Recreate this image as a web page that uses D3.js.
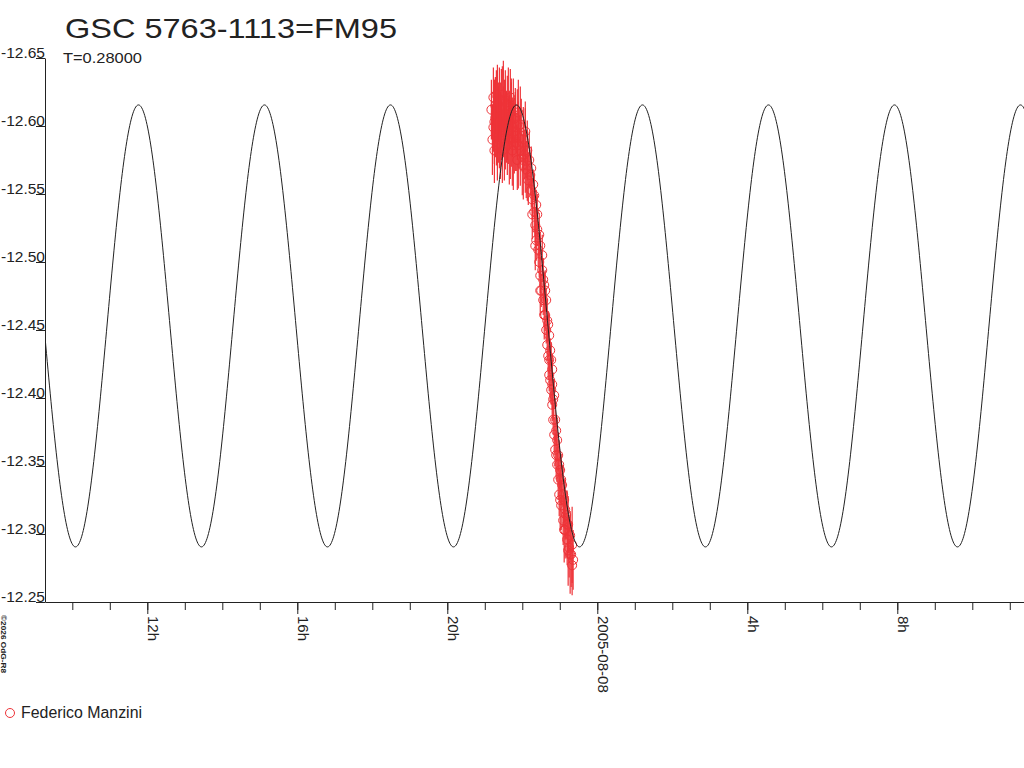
<!DOCTYPE html>
<html>
<head>
<meta charset="utf-8">
<title>GSC 5763-1113=FM95</title>
<script src="https://cdn.jsdelivr.net/npm/d3@7"></script>
<style>
	body { margin: 0; background: #fff; }
	svg { display: block; font-family: 'Liberation Sans', Arial, sans-serif; }
</style>
</head>
<body>
<svg id="chart" width="1024" height="768"></svg>
<script>
// observations, hours after 2005-08-07 00:00 UT
var obsHours = [
	21.176, 21.203, 21.229, 21.229, 21.256, 21.282, 21.282, 21.309, 21.309, 21.336,
	21.362, 21.362, 21.389, 21.389, 21.415, 21.442, 21.442, 21.468, 21.468, 21.495,
	21.522, 21.522, 21.548, 21.575, 21.575, 21.601, 21.628, 21.628, 21.654, 21.681,
	21.681, 21.708, 21.734, 21.734, 21.761, 21.787, 21.814, 21.840, 21.867, 21.867,
	21.894, 21.920, 21.947, 21.973, 22.000, 22.027, 22.053, 22.080, 22.106, 22.133,
	22.160, 22.186, 22.213, 22.239, 22.239, 22.266, 22.292, 22.319, 22.346, 22.372,
	22.372, 22.399, 22.425, 22.452, 22.479, 22.479, 22.505, 22.532, 22.558, 22.585,
	22.611, 22.638, 22.638, 22.665, 22.691, 22.718, 22.718, 22.744, 22.771, 22.798,
	22.798, 22.824, 22.851, 22.851, 22.877, 22.904, 22.930, 22.957, 22.957, 22.984,
	23.010, 23.037, 23.063, 23.090, 23.117, 23.143, 23.170, 23.196, 23.223, 23.249,
	23.276, 23.303, 23.329, 23.356,
	21.256, 21.336, 21.415, 21.495, 21.548, 21.601, 21.654, 21.708, 21.761, 21.814,
	21.894, 21.947, 22.027, 22.080, 22.133,
	22.266, 22.319, 22.346, 22.399, 22.452, 22.479, 22.532, 22.558, 22.585, 22.611,
	22.665, 22.691, 22.718, 22.744, 22.771, 22.798, 22.824, 22.877, 22.904, 22.930,
	22.984, 23.010, 23.037, 23.090, 23.117, 23.143, 23.196, 23.223, 23.276, 23.329
];
var obsMag = [
	-12.612, -12.590, -12.621, -12.599, -12.582, -12.615, -12.606, -12.593, -12.623, -12.586,
	-12.610, -12.601, -12.619, -12.590, -12.606, -12.613, -12.597, -12.623, -12.582, -12.603,
	-12.612, -12.591, -12.619, -12.599, -12.608, -12.586, -12.615, -12.596, -12.604, -12.621,
	-12.590, -12.610, -12.599, -12.582, -12.613, -12.593, -12.606, -12.588, -12.601, -12.575,
	-12.610, -12.591, -12.582, -12.599, -12.571, -12.590, -12.579, -12.596, -12.568, -12.582,
	-12.560, -12.575, -12.564, -12.553, -12.569, -12.546, -12.557, -12.537, -12.527, -12.542,
	-12.516, -12.524, -12.509, -12.500, -12.512, -12.490, -12.479, -12.494, -12.472, -12.483,
	-12.461, -12.450, -12.472, -12.439, -12.454, -12.428, -12.417, -12.435, -12.406, -12.421,
	-12.395, -12.384, -12.402, -12.373, -12.362, -12.376, -12.351, -12.340, -12.358, -12.329,
	-12.347, -12.321, -12.336, -12.310, -12.325, -12.303, -12.314, -12.296, -12.307, -12.290,
	-12.299, -12.285, -12.292, -12.281,
	-12.603, -12.612, -12.593, -12.619, -12.601, -12.606, -12.590, -12.601, -12.586, -12.596,
	-12.586, -12.601, -12.575, -12.582, -12.571,
	-12.535, -12.549, -12.512, -12.535, -12.520, -12.479, -12.505, -12.487, -12.461, -12.479,
	-12.457, -12.431, -12.446, -12.413, -12.428, -12.410, -12.399, -12.384, -12.358, -12.369,
	-12.351, -12.325, -12.340, -12.329, -12.303, -12.318, -12.307, -12.288, -12.285, -12.277
];
var obsErr = [
	0.022, 0.026, 0.022, 0.018, 0.024, 0.021, 0.029, 0.022, 0.018, 0.026,
	0.022, 0.028, 0.024, 0.021, 0.026, 0.029, 0.022, 0.021, 0.024, 0.026,
	0.022, 0.031, 0.022, 0.026, 0.018, 0.022, 0.028, 0.024, 0.022, 0.021,
	0.029, 0.025, 0.022, 0.026, 0.022, 0.028, 0.022, 0.021, 0.026, 0.022,
	0.024, 0.022, 0.026, 0.021, 0.022, 0.024, 0.018, 0.022, 0.021, 0.022,
	0.018, 0.021, 0.015, 0.013, 0.016, 0.015, 0.011, 0.015, 0.013, 0.011,
	0.015, 0.012, 0.013, 0.011, 0.010, 0.013, 0.012, 0.009, 0.011, 0.010,
	0.012, 0.010, 0.009, 0.011, 0.010, 0.010, 0.012, 0.009, 0.011, 0.010,
	0.012, 0.011, 0.010, 0.013, 0.012, 0.010, 0.013, 0.015, 0.012, 0.016,
	0.013, 0.018, 0.015, 0.018, 0.016, 0.021, 0.018, 0.019, 0.021, 0.022,
	0.018, 0.024, 0.028, 0.022,
	0.031, 0.033, 0.032, 0.029, 0.033, 0.031, 0.033, 0.031, 0.033, 0.029,
	0.032, 0.028, 0.029, 0.031, 0.026,
	0.018, 0.016, 0.018, 0.015, 0.016, 0.018, 0.015, 0.016, 0.018, 0.015,
	0.016, 0.018, 0.015, 0.016, 0.013, 0.018, 0.015, 0.016, 0.018, 0.015,
	0.018, 0.022, 0.019, 0.021, 0.024, 0.022, 0.025, 0.026, 0.029, 0.022
];

var starName = 'GSC 5763-1113=FM95';
var observer = 'Federico Manzini';
var credit = '\u00a92026 OdG-R8';

// fitted light curve (double wave over the period)
var periodDays = 0.28;
var maxEpochHours = 21.845;
var meanMag = -12.453;
var halfRange = 0.1625;

var magTicks = [-12.65, -12.60, -12.55, -12.50, -12.45, -12.40, -12.35, -12.30, -12.25];
var axisStartHours = 9.272;
var axisEndHours = 35.379;
var dayZero = Date.UTC(2005, 7, 7);

var ink = '#222';
var red = '#ee3338';

function toDate(h) {
	return new Date(dayZero + h * 3600000);
}

var svg = d3.select('#chart');

var x = d3
	.scaleUtc()
	.domain([toDate(axisStartHours), toDate(axisEndHours)])
	.range([45, 1024]);

var y = d3
	.scaleLinear()
	.domain([-12.65, -12.25])
	.range([58, 602]);

svg.append('defs')
	.append('clipPath')
	.attr('id', 'plot')
	.append('rect')
	.attr('x', 45)
	.attr('y', 0)
	.attr('width', 979)
	.attr('height', 602);

// title
svg.append('text')
	.attr('x', 65)
	.attr('y', 38)
	.attr('font-size', 28)
	.attr('fill', ink)
	.attr('textLength', 332)
	.attr('lengthAdjust', 'spacingAndGlyphs')
	.text(starName);

svg.append('text')
	.attr('x', 63)
	.attr('y', 63)
	.attr('font-size', 15)
	.attr('fill', ink)
	.attr('textLength', 79)
	.attr('lengthAdjust', 'spacingAndGlyphs')
	.text('T=' + periodDays.toFixed(5));

// y axis, labels sit on the tick like an underline
var yAxis = svg
	.append('g')
	.attr('transform', 'translate(45,0)')
	.call(
		d3
			.axisLeft(y)
			.tickValues(magTicks)
			.tickSize(9)
			.tickSizeOuter(0)
			.tickFormat(function(d) {
				return d.toFixed(2);
			})
	);
yAxis.attr('color', ink).attr('font-size', 15).attr('font-family', null);
yAxis
	.selectAll('text')
	.attr('x', 0)
	.attr('y', -1)
	.attr('dy', 0)
	.attr('text-anchor', 'end')
	.attr('textLength', 44)
	.attr('lengthAdjust', 'spacingAndGlyphs');

// x axis, hourly minor ticks and 4h labelled ticks
var xMinor = svg
	.append('g')
	.attr('transform', 'translate(0,602)')
	.call(
		d3
			.axisBottom(x)
			.ticks(d3.utcHour.every(1))
			.tickSize(8)
			.tickSizeOuter(0)
			.tickFormat('')
	);
xMinor.attr('color', ink);
xMinor.select('.domain').remove();

var xMajor = svg
	.append('g')
	.attr('transform', 'translate(0,602)')
	.call(
		d3
			.axisBottom(x)
			.ticks(d3.utcHour.every(4))
			.tickSize(12)
			.tickSizeOuter(0)
			.tickFormat(function(d) {
				if (d.getUTCHours() === 0) return d3.utcFormat('%Y-%m-%d')(d);
				return d.getUTCHours() + 'h';
			})
	);
xMajor.attr('color', ink).attr('font-size', 15).attr('font-family', null);
xMajor
	.selectAll('text')
	.attr('x', 0)
	.attr('y', 0)
	.attr('dy', 0)
	.attr('text-anchor', 'start')
	.attr('transform', 'translate(0,14) rotate(90)');

// observations: error bars then circles
var obs = obsHours.map(function(h, i) {
	return { t: toDate(h), mag: obsMag[i], err: obsErr[i] };
});

var marks = svg.append('g').attr('clip-path', 'url(#plot)');

marks
	.selectAll('line.err')
	.data(obs)
	.enter()
	.append('line')
	.attr('class', 'err')
	.attr('x1', function(d) { return x(d.t); })
	.attr('x2', function(d) { return x(d.t); })
	.attr('y1', function(d) { return y(d.mag - d.err); })
	.attr('y2', function(d) { return y(d.mag + d.err); })
	.attr('stroke', red)
	.attr('stroke-width', 1.2);

marks
	.selectAll('circle')
	.data(obs)
	.enter()
	.append('circle')
	.attr('cx', function(d) { return x(d.t); })
	.attr('cy', function(d) { return y(d.mag); })
	.attr('r', 4.5)
	.attr('fill', 'none')
	.attr('stroke', red)
	.attr('stroke-width', 1);

// fitted curve on top
var fitHours = d3.range(axisStartHours, axisEndHours + 0.02, 0.02);
var fitLine = d3
	.line()
	.x(function(h) { return x(toDate(h)); })
	.y(function(h) {
		var phase = (h - maxEpochHours) / (periodDays * 24);
		return y(meanMag - halfRange * Math.cos(4 * Math.PI * phase));
	});

marks
	.append('path')
	.datum(fitHours)
	.attr('d', fitLine)
	.attr('fill', 'none')
	.attr('stroke', ink)
	.attr('stroke-width', 1);

// credit, rotated in the corner
svg.append('text')
	.attr('transform', 'translate(1,615) rotate(90)')
	.attr('font-size', 8)
	.attr('font-weight', 'bold')
	.attr('fill', ink)
	.attr('textLength', 58)
	.attr('lengthAdjust', 'spacingAndGlyphs')
	.text(credit);

// legend
svg.append('circle')
	.attr('cx', 10)
	.attr('cy', 713)
	.attr('r', 4.5)
	.attr('fill', 'none')
	.attr('stroke', red);

svg.append('text')
	.attr('x', 21)
	.attr('y', 718)
	.attr('font-size', 16)
	.attr('fill', ink)
	.attr('textLength', 121)
	.attr('lengthAdjust', 'spacingAndGlyphs')
	.text(observer);
</script>
</body>
</html>
